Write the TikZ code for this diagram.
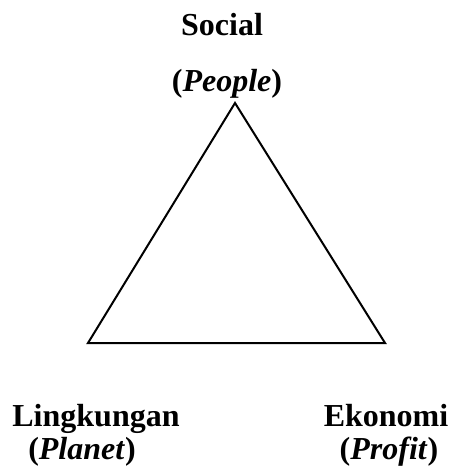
\documentclass[tikz,border=0pt]{standalone}
\usepackage{fontspec}
\setmainfont{Liberation Serif}
\usetikzlibrary{positioning}

\begin{document}
\begin{tikzpicture}[
  x=0.5pt, y=-0.5pt,
  pillar/.style={anchor=base, inner sep=0pt, font=\fontsize{16}{19}\selectfont\bfseries},
  side/.style={line width=1pt, line join=miter, black}
]
\useasboundingbox (0,0) rectangle (452,469);

% corners of the triangle
\coordinate (Top)   at (235,103);
\coordinate (Left)  at (88,343);
\coordinate (Right) at (385,343);

% triangle
\draw[side] (Top) -- (Left) -- (Right) -- cycle;

% labels
\node[pillar] (Social) at (222,36)  {Social};
\node[pillar] (People) at (227,92)  {(\textit{People})};
\node[pillar] (Lingk)  at (96,426)  {Lingkungan};
\node[pillar] (Planet) at (82,459)  {(\textit{Planet})};
\node[pillar] (Ekon)   at (386,426) {Ekonomi};
\node[pillar] (Profit) at (389,459) {(\textit{Profit})};

\end{tikzpicture}
\end{document}
